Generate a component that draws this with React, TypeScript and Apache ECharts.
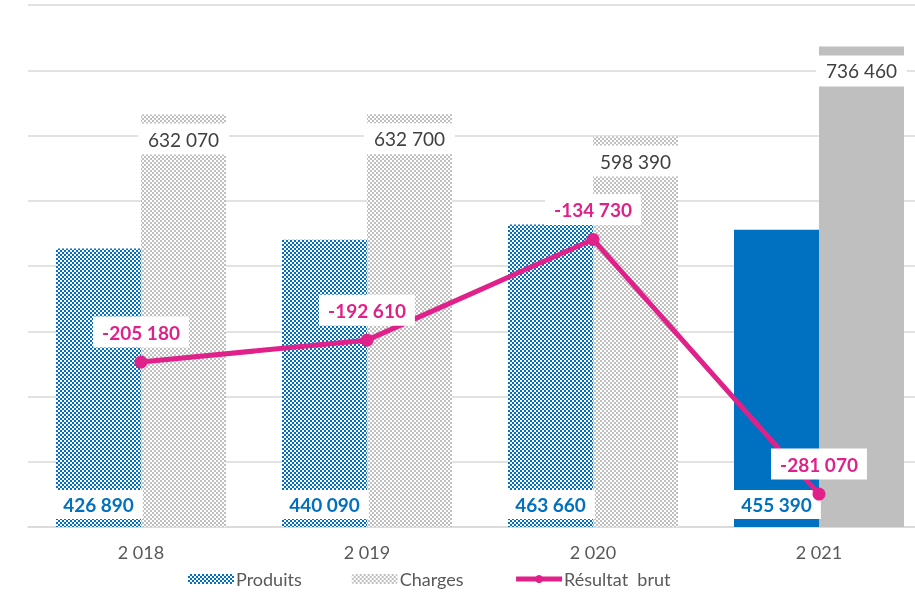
import React, { useEffect, useRef } from "react";
import * as echarts from "echarts";

const categories = ["2 018", "2 019", "2 020", "2 021"];
const produits = [426890, 440090, 463660, 455390];
const charges = [632070, 632700, 598390, 736460];
const resultat = [-205180, -192610, -134730, -281070];

const BLUE = "#0070C0";
const GREY = "#BFBFBF";
const PINK = "#E0218A";
const FONT = "Lato, 'Noto Sans', sans-serif";

function fmt(n: number): string {
  const s = Math.abs(n).toString().replace(/\B(?=(\d{3})+(?!\d))/g, " ");
  return (n < 0 ? "-" : "") + s;
}

function makePattern(fg: string, bg: string, cell: number) {
  const c = document.createElement("canvas");
  c.width = cell * 2;
  c.height = cell * 2;
  const ctx = c.getContext("2d")!;
  ctx.fillStyle = bg;
  ctx.fillRect(0, 0, c.width, c.height);
  ctx.fillStyle = fg;
  ctx.fillRect(0, 0, cell, cell);
  ctx.fillRect(cell, cell, cell, cell);
  return c;
}

export default function App() {
  const ref = useRef<HTMLDivElement>(null);
  useEffect(() => {
    const chart = echarts.init(ref.current!, undefined, { renderer: "svg" });
    const bluePat = { image: makePattern("#ffffff", BLUE, 2), repeat: "repeat" };
    const greyPat = { image: makePattern(GREY, "#ffffff", 2), repeat: "repeat" };
    const last = categories.length - 1;
    chart.setOption({
      animation: false,
      textStyle: { fontFamily: FONT },
      grid: { left: 28, right: 0, top: 5, bottom: 66 },
      legend: {
        left: 188,
        top: 570,
        padding: 0,
        itemWidth: 46,
        itemHeight: 10,
        itemGap: 50,
        textStyle: { color: "#595959", fontSize: 18, fontFamily: FONT, padding: [0, 0, 0, -3] },
        data: [
          "Produits",
          "Charges",
          { name: "Résultat  brut", lineStyle: { width: 5 } },
        ],
      },
      xAxis: {
        type: "category",
        data: categories,
        axisLine: { lineStyle: { color: "#D9D9D9", width: 1.5 } },
        axisTick: { show: false },
        axisLabel: { color: "#595959", fontSize: 18, margin: 16, fontFamily: FONT },
      },
      yAxis: [
        {
          type: "value",
          min: 0,
          max: 800000,
          interval: 100000,
          axisLabel: { show: false },
          axisLine: { show: false },
          axisTick: { show: false },
          splitLine: { lineStyle: { color: "#D9D9D9", width: 1.5 } },
        },
        {
          type: "value",
          min: -300000,
          max: 0,
          show: false,
          splitLine: { show: false },
        },
      ],
      series: [
        {
          name: "Produits",
          type: "bar",
          barWidth: 85,
          barGap: "0%",
          itemStyle: { color: bluePat },
          data: produits.map((v, i) =>
            i === last ? { value: v, itemStyle: { color: BLUE } } : v
          ),
          label: {
            show: true,
            position: "insideBottom",
            distance: 8,
            formatter: (p: any) => fmt(p.value),
            color: BLUE,
            fontWeight: "bold",
            fontSize: 19,
            fontFamily: FONT,
            backgroundColor: "#ffffff",
            padding: [5, 9, 5, 9],
          },
        },
        {
          name: "Charges",
          type: "bar",
          barWidth: 85,
          itemStyle: { color: greyPat },
          data: charges.map((v, i) =>
            i === last ? { value: v, itemStyle: { color: GREY } } : v
          ),
          label: {
            show: true,
            position: "insideTop",
            distance: 9,
            formatter: (p: any) => fmt(p.value),
            color: "#404040",
            fontSize: 19,
            fontFamily: FONT,
            backgroundColor: "#ffffff",
            padding: [6, 10, 6, 10],
          },
        },
        {
          name: "Résultat  brut",
          type: "line",
          yAxisIndex: 1,
          data: resultat,
          symbol: "circle",
          symbolSize: 13,
          z: 5,
          lineStyle: { color: PINK, width: 5 },
          itemStyle: { color: PINK },
          label: {
            show: true,
            position: "top",
            distance: 8,
            formatter: (p: any) => fmt(p.value),
            color: PINK,
            fontWeight: "bold",
            fontSize: 19,
            fontFamily: FONT,
            backgroundColor: "#ffffff",
            padding: [6, 9, 6, 9],
          },
        },
      ],
    });
    return () => chart.dispose();
  }, []);
  return (
    <div
      style={{ position: "fixed", left: 0, top: 0, width: 915, height: 593, overflow: "hidden" }}
    >
      <div ref={ref} style={{ width: 932, height: 593 }} />
    </div>
  );
}
